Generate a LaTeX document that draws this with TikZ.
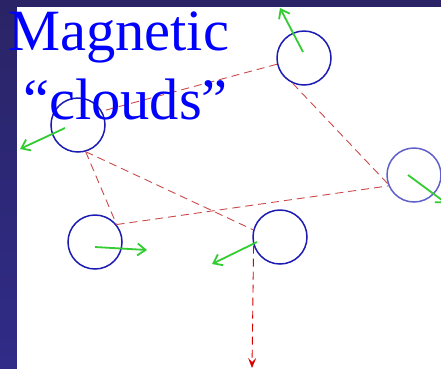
\documentclass[tikz,border=0pt]{standalone}
\usepackage{fontspec}
\setmainfont{Liberation Serif}
\usetikzlibrary{arrows.meta}
\definecolor{slide}{HTML}{2A2466}
\definecolor{slidelow}{HTML}{302C88}
\definecolor{cloud}{HTML}{1C1CB4}
\definecolor{field}{HTML}{33CC33}
\definecolor{link}{HTML}{CC4A4A}
\definecolor{title}{HTML}{0000FF}

\begin{document}
\begin{tikzpicture}[x=1pt,y=-1pt,
  cloud/.style={draw=cloud,circle,line width=1.5pt,minimum size=54pt,inner sep=0pt},
  fieldvec/.style={field,line width=1.8pt,-{Straight Barb[length=8pt,width=12pt]}},
  bond/.style={link,line width=0.9pt,dash pattern=on 8pt off 5pt},
  heading/.style={title,anchor=base west,inner sep=0pt,font=\fontsize{58.5}{60}\selectfont}]

  \useasboundingbox (0,0) rectangle (441,368);
  \shade[top color=slide,bottom color=slidelow] (-2,-2) rectangle (443,370);
  \fill[white] (17,7) rectangle (445,372);

  % Clouds
  \node[cloud] (c1) at (304,58) {};
  \node[cloud] (c2) at (78,125) {};
  \node[cloud,draw=cloud!70] (c3) at (414,175) {};
  \node[cloud] (c4) at (95,242) {};
  \node[cloud] (c5) at (280,237) {};

  % Bonds between clouds
  \draw[bond] (c1.193) -- (c2.30);
  \draw[bond] (c1.246) -- (c3.198);
  \draw[bond] (c2.-74) -- (c4.39);
  \draw[bond] (c2.-74) -- (c5.165);
  \draw[bond] (c4.39) -- (c3.203);
  \coordinate (down) at (252,368);
  \draw[bond,-{Stealth[length=10pt,width=8pt,inset=4pt]},red!85!black] (c5.198) -- (down);

  % Field directions
  \coordinate (m1) at (303,52);  \coordinate (t1) at (280,8);
  \coordinate (m2) at (65,128);  \coordinate (t2) at (20,149);
  \coordinate (m3) at (408,175); \coordinate (t3) at (446,203);
  \coordinate (m4) at (95,247);  \coordinate (t4) at (147,250);
  \coordinate (m5) at (257,242); \coordinate (t5) at (212,264);
  \foreach \i in {1,...,5}
    \draw[fieldvec] (m\i) -- (t\i);

  % Title
  \node[heading] (line1) at (8,50) {Magnetic};
  \node[heading] (line2) at (23,119) {``clouds''};
\end{tikzpicture}
\end{document}
